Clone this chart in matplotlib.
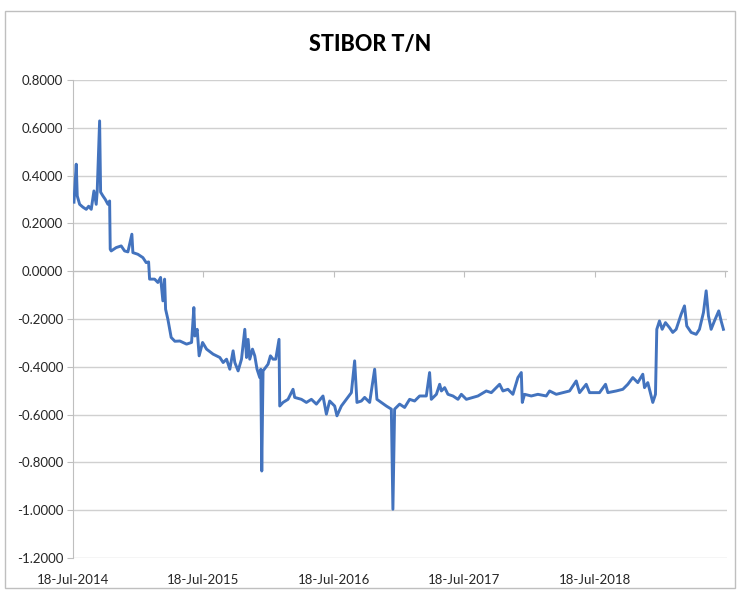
import matplotlib
matplotlib.use("Agg")

import matplotlib.pyplot as plt
import matplotlib.transforms as mtransforms
from matplotlib.patches import Rectangle
from matplotlib.ticker import FixedLocator, FormatStrFormatter

# days since 18-Jul-2014 and STIBOR T/N fixing (%)
days = [
    2.8, 9.2, 12.0, 18.7, 28.0, 37.2, 43.9, 51.2, 58.7, 65.1, 67.9, 74.6, 77.4,
    83.9, 90.3, 97.9, 102.6, 104.3, 107.1, 121.0, 135.0, 144.5, 153.8, 164.9,
    167.7, 181.7, 195.8, 205.0, 211.7, 214.5, 228.5, 237.7, 245.3, 251.7,
    256.5, 259.3, 265.7, 274.9, 285.3, 299.3, 318.0, 332.0, 338.4, 341.2,
    347.7, 353.2, 362.8, 374.0, 392.4, 411.2, 420.4, 429.9, 439.1, 448.3,
    453.1, 462.3, 471.8, 481.0, 485.8, 490.2, 494.9, 502.5, 508.9, 515.3,
    522.9, 525.7, 528.5, 532.1, 546.1, 552.8, 560.1, 567.6, 576.8, 578.8,
    588.0, 602.0, 616.0, 620.7, 639.5, 653.4, 667.4, 681.4, 699.9, 709.4,
    718.6, 732.6, 739.0, 751.3, 765.3, 779.3, 788.5, 795.0, 807.3, 816.5,
    830.5, 844.5, 850.9, 863.2, 877.2, 891.2, 895.6, 900.4, 914.4, 928.4,
    942.4, 956.4, 970.4, 989.1, 998.3, 1003.1, 1017.3, 1026.5, 1031.3,
    1040.5, 1049.7, 1063.7, 1077.7, 1087.2, 1101.2, 1119.6, 1133.6, 1157.1,
    1171.1, 1194.3, 1203.6, 1217.6, 1231.5, 1245.5, 1255.0, 1257.8, 1264.2,
    1283.0, 1301.4, 1324.9, 1334.2, 1352.9, 1371.4, 1390.1, 1408.8, 1418.1,
    1436.8, 1446.0, 1474.0, 1490.8, 1497.3, 1520.7, 1539.2, 1553.2, 1567.2,
    1581.1, 1595.1, 1599.9, 1609.1, 1618.6, 1623.1, 1630.6, 1634.3, 1641.8,
    1649.4, 1658.6, 1669.8, 1679.0, 1688.5, 1702.5, 1711.8, 1718.2, 1730.5,
    1744.5, 1753.7, 1764.9, 1772.5, 1778.9, 1786.4, 1795.7, 1807.7, 1814.4,
    1820.8,
]
rate = [
    0.289, 0.448, 0.315, 0.280, 0.268, 0.259, 0.272, 0.259, 0.336, 0.280,
    0.336, 0.629, 0.331, 0.315, 0.301, 0.280, 0.294, 0.092, 0.085, 0.099,
    0.106, 0.085, 0.081, 0.155, 0.078, 0.071, 0.057, 0.036, 0.039, -0.033,
    -0.033, -0.047, -0.026, -0.124, -0.033, -0.159, -0.201, -0.277, -0.293,
    -0.292, -0.305, -0.298, -0.152, -0.271, -0.243, -0.354, -0.298, -0.326,
    -0.347, -0.361, -0.382, -0.368, -0.410, -0.333, -0.382, -0.417, -0.368,
    -0.243, -0.361, -0.285, -0.368, -0.326, -0.354, -0.410, -0.445, -0.410,
    -0.836, -0.417, -0.389, -0.354, -0.368, -0.368, -0.285, -0.564, -0.549,
    -0.536, -0.494, -0.528, -0.536, -0.549, -0.536, -0.556, -0.522, -0.598,
    -0.543, -0.564, -0.605, -0.564, -0.536, -0.508, -0.375, -0.549, -0.543,
    -0.528, -0.549, -0.410, -0.536, -0.549, -0.564, -0.577, -0.996, -0.577,
    -0.556, -0.570, -0.536, -0.543, -0.522, -0.522, -0.424, -0.536, -0.515,
    -0.473, -0.501, -0.487, -0.515, -0.522, -0.536, -0.515, -0.536, -0.528,
    -0.522, -0.501, -0.508, -0.473, -0.501, -0.494, -0.515, -0.445, -0.424,
    -0.549, -0.515, -0.522, -0.515, -0.522, -0.501, -0.515, -0.508, -0.501,
    -0.459, -0.508, -0.473, -0.508, -0.508, -0.473, -0.508, -0.501, -0.494,
    -0.473, -0.445, -0.466, -0.431, -0.487, -0.466, -0.522, -0.549, -0.515,
    -0.243, -0.208, -0.243, -0.215, -0.236, -0.256, -0.243, -0.180, -0.145,
    -0.229, -0.256, -0.264, -0.243, -0.173, -0.082, -0.187, -0.243, -0.208,
    -0.166, -0.208, -0.243,
]

year_ticks = [0, 365, 730, 1095, 1460, 1825]
year_labels = ["18-Jul-2014", "18-Jul-2015", "18-Jul-2016", "18-Jul-2017", "18-Jul-2018"]
y_ticks = [-1.2, -1.0, -0.8, -0.6, -0.4, -0.2, 0.0, 0.2, 0.4, 0.6, 0.8]

plt.rcParams["font.family"] = ["Lato", "DejaVu Sans"]

fig = plt.figure(figsize=(7.37, 5.93), dpi=100)
fig.patches.append(Rectangle((0.007, 0.008), 0.99, 0.973, transform=fig.transFigure,
                             fill=False, edgecolor="#BFBFBF", lw=1.0))
ax = fig.add_axes([0.099, 0.059, 0.888, 0.806])

ax.plot(days, rate, color="#4373BE", lw=2.1, solid_joinstyle="round", zorder=3)

ax.set_xlim(0, 1832)
ax.set_ylim(-1.2, 0.8)
ax.yaxis.set_major_locator(FixedLocator(y_ticks))
ax.yaxis.set_major_formatter(FormatStrFormatter("%.4f"))
ax.grid(axis="y", color="#D0D0D0", lw=1.0)
ax.tick_params(axis="y", length=4, color="#BFBFBF", labelsize=9.5, pad=3,
               labelcolor="#262626")

ax.xaxis.set_major_locator(FixedLocator(year_ticks))
ax.tick_params(axis="x", length=4, color="#BFBFBF", labelbottom=False)
ax.spines["bottom"].set_position(("data", 0.0))
ax.spines["bottom"].set_color("#BFBFBF")
ax.spines["left"].set_color("#BFBFBF")
ax.spines["top"].set_visible(False)
ax.spines["right"].set_visible(False)

trans = mtransforms.blended_transform_factory(ax.transData, ax.transAxes)
for d, lab in zip(year_ticks, year_labels):
    ax.text(d, -0.045, lab, transform=trans, ha="center", va="center",
            fontsize=9.5, color="#262626")

fig.text(0.502, 0.925, "STIBOR T/N", ha="center", va="center",
         fontsize=15.5, fontweight="black")

fig.savefig("out.png", dpi=100)
